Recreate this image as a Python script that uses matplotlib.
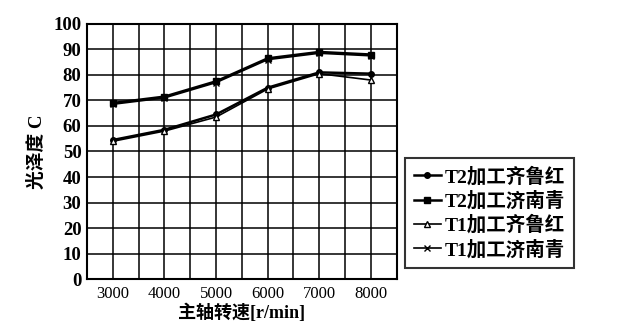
import numpy as np
import matplotlib
matplotlib.use('Agg')
import matplotlib.pyplot as plt

plt.rcParams['font.family'] = ['Liberation Serif', 'Noto Sans CJK SC']

speed = [3000, 4000, 5000, 6000, 7000, 8000]
t2_qilu = [54.5, 58.5, 64.5, 75.0, 81.0, 80.5]
t2_jinan = [69.0, 71.5, 77.5, 86.5, 89.0, 88.0]
t1_qilu = [54.0, 58.0, 63.5, 74.5, 80.5, 78.0]
t1_jinan = [68.5, 71.0, 77.0, 86.0, 88.5, 87.5]

labels = ['T2加工齐鲁红', 'T2加工济南青', 'T1加工齐鲁红', 'T1加工济南青']

fig = plt.figure(figsize=(6.17, 3.23), dpi=100)
ax = fig.add_axes([0.141, 0.136, 0.502, 0.79])

ax.plot(speed, t2_qilu, color='black', lw=1.8, marker='o', ms=4, label=labels[0])
ax.plot(speed, t2_jinan, color='black', lw=1.8, marker='s', ms=5, label=labels[1])
ax.plot(speed, t1_qilu, color='black', lw=1.2, marker='^', ms=5, mfc='white', label=labels[2])
ax.plot(speed, t1_jinan, color='black', lw=1.2, marker='x', ms=4, label=labels[3])

ax.set_xlim(2500, 8500)
ax.set_ylim(0, 100)
ax.set_xticks(speed)
ax.set_xticks(np.arange(2500, 8501, 500), minor=True)
ax.set_yticks(np.arange(0, 101, 10))
ax.grid(True, which='both', color='black', lw=1.1)
ax.tick_params(which='both', length=0)
ax.tick_params(axis='x', labelsize=12, pad=5)
ax.tick_params(axis='y', labelsize=13.5, pad=4)
for t in ax.get_yticklabels():
    t.set_fontweight('bold')
for s in ax.spines.values():
    s.set_linewidth(1.5)

ax.set_xlabel('主轴转速[r/min]', fontsize=13, fontweight='bold', labelpad=1)
ax.set_ylabel('光泽度 C', fontsize=13.5, fontweight='bold', labelpad=5)

leg = ax.legend(loc='upper left', bbox_to_anchor=(1.026, 0.475), frameon=True,
                fancybox=False, edgecolor='black', fontsize=14,
                handlelength=1.4, handletextpad=0.2, borderpad=0.45,
                labelspacing=0.25, borderaxespad=0)
leg.get_frame().set_linewidth(1.5)
for t in leg.get_texts():
    t.set_fontweight('bold')

fig.savefig('out.png', dpi=100)
